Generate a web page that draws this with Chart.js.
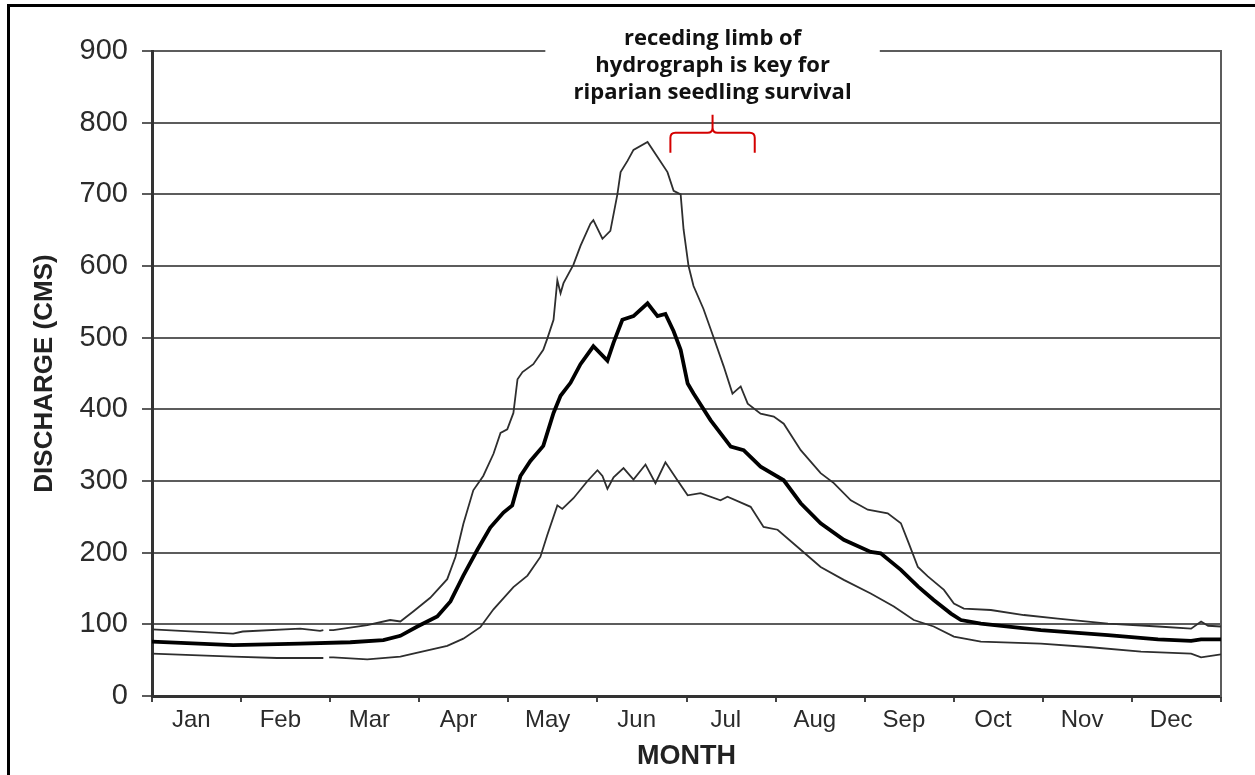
<!DOCTYPE html>
<html>
<head>
<meta charset="utf-8">
<script src="https://cdn.jsdelivr.net/npm/chart.js@4.4.1/dist/chart.umd.min.js"></script>
<style>
  html, body { margin: 0; padding: 0; background: #fff; }
  #wrap { position: relative; width: 1255px; height: 775px; overflow: hidden; }
  #frame { position: absolute; left: 7px; top: 4px; width: 1300px; height: 800px; border-top: 3px solid #000; border-left: 3px solid #000; }
  #wrap canvas { position: absolute; left: 0; top: 0; }
</style>
</head>
<body>
<div id="wrap">
  <div id="frame"></div>
  <canvas id="chart" width="1255" height="775"></canvas>
</div>
<script>
// month names under the x axis
const months = ["Jan", "Feb", "Mar", "Apr", "May", "Jun", "Jul", "Aug", "Sep", "Oct", "Nov", "Dec"];

// upper envelope (thin line) - day of year / discharge (cms)
const upperDays = [0, 27.7, 31, 50.6, 57.4, 58.5, 59.5, 60.5, 61.9, 73.5, 81.3, 84.8, 89.2, 95, 100.8, 103.6, 106.3, 109.7, 113.1, 116.6, 119, 121.3, 123.4, 124.8, 126.5, 130.2, 133.6, 135, 137.1, 138.4, 139.5, 140.5, 143.9, 146.3, 149.7, 150.7, 153.8, 156.5, 158.9, 160, 162.4, 164.4, 169.2, 172.6, 176, 178.1, 180.5, 181.5, 183.2, 184.9, 188.3, 191.7, 195.2, 198.2, 201, 203.4, 207.8, 212.3, 215.7, 221.5, 228.3, 232.8, 238.6, 244.4, 251.2, 255.7, 258.4, 261.5, 264.9, 270.4, 273.8, 277.2, 286.4, 297.7, 309.3, 326.4, 343.5, 354.8, 358.2, 360.6, 365];
const upperFlow = [93, 87, 90, 94, 91, 92, null, 92, 92, 99, 106, 104, 118, 137, 163, 194, 240, 287, 307, 338, 367, 372, 395, 442, 452, 463, 483, 499, 525, 580, 562, 576, 602, 628, 659, 664, 638, 649, 700, 731, 747, 762, 773, 752, 731, 705, 700, 651, 600, 572, 540, 501, 460, 422, 432, 408, 394, 390, 380, 343, 311, 297, 273, 260, 255, 241, 213, 180, 167, 148, 129, 122, 120, 113, 108, 101, 97, 94, 104, 98, 97];

// median (thick line)
const medianDays = [0, 27.7, 50.6, 67.7, 79, 84.8, 90.6, 97.4, 101.9, 106.3, 111.1, 115.5, 120, 123, 125.8, 129.2, 133.6, 137.1, 139.5, 142.9, 146.3, 150.7, 155.5, 157.6, 160.6, 164.4, 169.2, 172.6, 175.3, 178.1, 180.5, 182.9, 184.9, 190.7, 197.6, 202, 207.8, 215.7, 221.5, 228.3, 236.2, 245.4, 248.8, 255.7, 261.5, 266.9, 272.8, 276.2, 283, 303.5, 326.4, 343.5, 354.8, 358.2, 365];
const medianFlow = [76, 71, 73, 75, 78, 84, 97, 111, 132, 168, 204, 235, 256, 266, 307, 328, 349, 395, 419, 437, 463, 488, 468, 493, 525, 530, 548, 530, 533, 509, 483, 436, 422, 385, 348, 343, 320, 301, 269, 241, 218, 201, 199, 176, 153, 134, 115, 106, 101, 92, 85, 79, 77, 79, 79];

// lower envelope (thin line)
const lowerDays = [0, 27.7, 42.7, 57.4, 58.5, 59.5, 60.5, 61.9, 73.5, 84.8, 89.2, 100.8, 106.3, 112.1, 116.6, 123.4, 128.2, 132.6, 135, 138.4, 140.1, 143.9, 148.7, 152.1, 153.8, 155.5, 157.6, 161, 164.4, 168.5, 171.9, 175.3, 179.4, 182.9, 187.3, 194.1, 196.5, 204.4, 208.8, 213.6, 221.5, 228.3, 236.2, 245.4, 253.3, 260.1, 266.9, 273.8, 283, 303.5, 320.6, 337.7, 354.8, 358.2, 365];
const lowerFlow = [59, 55, 53, 53, 53, null, 54, 54, 51, 55, 59, 70, 80, 96, 121, 152, 168, 194, 225, 266, 261, 276, 300, 315, 307, 289, 305, 318, 302, 323, 297, 326, 301, 280, 283, 273, 278, 264, 236, 232, 204, 180, 162, 143, 125, 106, 97, 83, 76, 73, 68, 62, 59, 54, 58];

// annotation text and where the note / brace sit (days, cms)
const noteLines = ["receding limb of", "hydrograph is key for", "riparian seedling survival"];
const noteBox = { fromDay: 134.3, toDay: 248.5, bottomValue: 808 };
const brace = { fromDay: 177, midDay: 191.4, toDay: 205.8, tipValue: 811, barValue: 786, endValue: 758 };

const toPoints = (days, flow) => days.map((d, i) => ({ x: d, y: flow[i] }));

Chart.defaults.font.family = '"Liberation Sans", Arial, sans-serif';

// white note box, bold text and red brace over the peak
const notePlugin = {
  id: "note",
  afterDraw(chart) {
    const { ctx, chartArea } = chart;
    const x = chart.scales.x, y = chart.scales.y;
    ctx.save();
    const left = x.getPixelForValue(noteBox.fromDay);
    const right = x.getPixelForValue(noteBox.toDay);
    const top = chartArea.top - 40;
    ctx.fillStyle = "#fff";
    ctx.fillRect(left, top, right - left, y.getPixelForValue(noteBox.bottomValue) - top);

    const cx = x.getPixelForValue(brace.midDay);
    ctx.fillStyle = "#111";
    ctx.font = 'bold 22px "Open Sans"';
    ctx.textAlign = "center";
    ctx.textBaseline = "alphabetic";
    noteLines.forEach((t, i) => ctx.fillText(t, cx, chartArea.top - 6 + i * 27));

    const x0 = x.getPixelForValue(brace.fromDay), x1 = x.getPixelForValue(brace.toDay);
    const yE = y.getPixelForValue(brace.endValue), yB = y.getPixelForValue(brace.barValue);
    const yT = y.getPixelForValue(brace.tipValue);
    const r = 5;
    ctx.strokeStyle = "#d40000";
    ctx.lineWidth = 2;
    ctx.beginPath();
    ctx.moveTo(x0, yE);
    ctx.lineTo(x0, yB + r);
    ctx.quadraticCurveTo(x0, yB, x0 + r, yB);
    ctx.lineTo(cx - r, yB);
    ctx.quadraticCurveTo(cx, yB, cx, yB - r);
    ctx.lineTo(cx, yT);
    ctx.moveTo(cx, yB - r);
    ctx.quadraticCurveTo(cx, yB, cx + r, yB);
    ctx.lineTo(x1 - r, yB);
    ctx.quadraticCurveTo(x1, yB, x1, yB + r);
    ctx.lineTo(x1, yE);
    ctx.stroke();
    ctx.restore();
  }
};

new Chart(document.getElementById("chart"), {
  type: "line",
  data: {
    datasets: [
      { label: "upper", data: toPoints(upperDays, upperFlow), borderColor: "#2e2e2e", borderWidth: 1.8 },
      { label: "lower", data: toPoints(lowerDays, lowerFlow), borderColor: "#2e2e2e", borderWidth: 1.8 },
      { label: "median", data: toPoints(medianDays, medianFlow), borderColor: "#000", borderWidth: 3.8 }
    ]
  },
  options: {
    responsive: false,
    devicePixelRatio: 1,
    animation: false,
    spanGaps: false,
    elements: { point: { radius: 0 }, line: { tension: 0 } },
    layout: { padding: { top: 51, right: 34, bottom: 0, left: 0 } },
    plugins: { legend: { display: false }, tooltip: { enabled: false } },
    scales: {
      x: {
        type: "linear",
        min: 0,
        max: 365,
        // even ticks = month boundaries (tick marks), odd ticks = month labels (a bit left of centre, as in the original)
        afterBuildTicks: (s) => {
          const n = months.length * 2;
          s.ticks = Array.from({ length: n + 1 }, (_, i) => ({ value: (i * 365) / n - (i % 2 ? 1.8 : 0) }));
        },
        ticks: {
          autoSkip: false,
          maxRotation: 0,
          padding: 4,
          color: "#2b2b2b",
          font: { size: 24 },
          callback: (v, i) => (i % 2 ? months[(i - 1) / 2] : "")
        },
        grid: {
          drawOnChartArea: false,
          tickLength: 6,
          lineWidth: 2,
          tickColor: (c) => (c.index % 2 ? "rgba(0,0,0,0)" : "#444")
        },
        border: { color: "#333", width: 3 },
        title: {
          display: true,
          text: "MONTH",
          color: "#222",
          font: { size: 27, weight: "bold" },
          padding: { top: 0, bottom: 2 }
        },
        afterFit: (s) => { s.height = 79; }
      },
      y: {
        min: 0,
        max: 900,
        ticks: { stepSize: 100, padding: 14, color: "#2b2b2b", font: { size: 29 } },
        grid: { color: "#5c5c5c", lineWidth: 2, tickLength: 10 },
        border: { color: "#333", width: 3 },
        title: {
          display: true,
          text: "DISCHARGE (CMS)",
          color: "#222",
          font: { size: 26, weight: "bold" },
          padding: { top: 29, bottom: 0 }
        },
        afterFit: (s) => { s.width = 152; }
      },
      y2: {
        position: "right",
        min: 0,
        max: 900,
        ticks: { display: false },
        grid: { drawOnChartArea: false, drawTicks: false },
        border: { color: "#5c5c5c", width: 2 },
        afterFit: (s) => { s.width = 0; }
      }
    }
  },
  plugins: [notePlugin]
});
</script>
</body>
</html>
